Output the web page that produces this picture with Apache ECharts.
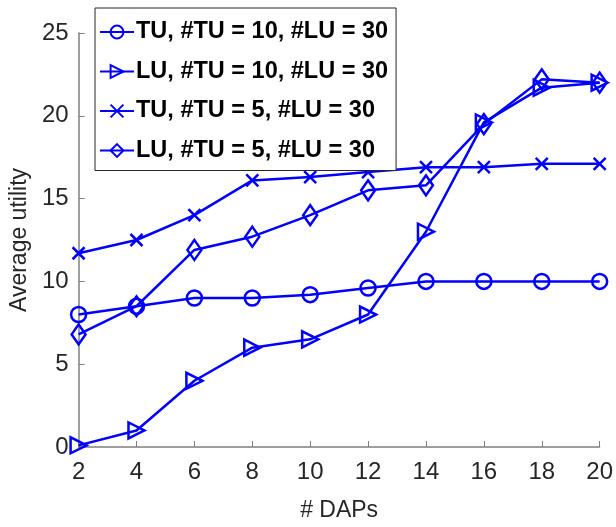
<!DOCTYPE html>
<html>
<head>
<meta charset="utf-8">
<script src="https://cdn.jsdelivr.net/npm/echarts@6/dist/echarts.min.js"></script>
<style>
  html, body { margin: 0; padding: 0; background: #fff; }
  #chart { width: 616px; height: 527px; }
</style>
</head>
<body>
<div id="chart"></div>
<script>
// number of DAPs on the x axis
var daps = [2, 4, 6, 8, 10, 12, 14, 16, 18, 20];

// average utility per series
var tu10 = [8.0, 8.5, 9.0, 9.0, 9.2, 9.6, 10.0, 10.0, 10.0, 10.0];
var lu10 = [0.1, 1.0, 4.0, 6.0, 6.5, 8.0, 13.0, 19.6, 21.7, 22.0];
var tu5 = [11.7, 12.5, 14.0, 16.1, 16.3, 16.6, 16.9, 16.9, 17.1, 17.1];
var lu5 = [6.8, 8.5, 11.9, 12.7, 14.0, 15.5, 15.8, 19.5, 22.2, 22.0];

var names = [
  'TU, #TU = 10, #LU = 30',
  'LU, #TU = 10, #LU = 30',
  'TU, #TU = 5, #LU = 30',
  'LU, #TU = 5, #LU = 30'
];

var blue = '#0000ff';
var axisGray = '#7f7f7f';
var textGray = '#262626';

function pairs(ys) {
  return daps.map(function (x, i) { return [x, ys[i]]; });
}

function makeSeries(name, ys, symbol, size, rotate) {
  return {
    name: name,
    type: 'line',
    data: pairs(ys),
    symbol: symbol,
    symbolSize: size,
    symbolRotate: rotate || 0,
    showAllSymbol: true,
    lineStyle: { color: blue, width: 2.5 },
    itemStyle: { color: 'rgba(0,0,0,0)', borderColor: blue, borderWidth: 2.5 },
    emphasis: { disabled: true },
    z: 3
  };
}

var chart = echarts.init(document.getElementById('chart'));
chart.setOption({
  animation: false,
  backgroundColor: '#fff',
  textStyle: { fontFamily: 'Liberation Sans, Arial, sans-serif' },
  grid: { left: 78, right: 14, top: 33, bottom: 79 },
  legend: {
    data: names,
    orient: 'vertical',
    left: 95,
    top: 8,
    padding: [12, 8, 8, 4],
    itemGap: 15.5,
    itemWidth: 34,
    itemHeight: 16,
    backgroundColor: '#fff',
    borderColor: textGray,
    borderWidth: 1,
    textStyle: { fontSize: 23.5, fontWeight: 'bold', color: '#000', padding: [0, 0, 0, -3] }
  },
  xAxis: {
    type: 'value',
    min: 2,
    max: 20,
    interval: 2,
    name: '# DAPs',
    nameLocation: 'middle',
    nameGap: 52,
    nameTextStyle: { fontSize: 23, color: textGray },
    axisLine: { lineStyle: { color: axisGray, width: 1.5 } },
    axisTick: { inside: true, length: 6, lineStyle: { color: axisGray } },
    axisLabel: { fontSize: 24, color: textGray, margin: 13 },
    splitLine: { show: false }
  },
  yAxis: {
    type: 'value',
    min: 0,
    max: 25,
    interval: 5,
    name: 'Average utility',
    nameLocation: 'middle',
    nameGap: 46,
    nameTextStyle: { fontSize: 23, color: textGray },
    axisLine: { show: true, lineStyle: { color: axisGray, width: 1.5 } },
    axisTick: { show: true, inside: true, length: 6, lineStyle: { color: axisGray } },
    axisLabel: { fontSize: 24, color: textGray, margin: 10 },
    splitLine: { show: false }
  },
  series: [
    makeSeries(names[0], tu10, 'circle', 15),
    makeSeries(names[1], lu10, 'triangle', 16, -90),
    makeSeries(names[2], tu5, 'path://M0,0L10,10M10,0L0,10', 12),
    makeSeries(names[3], lu5, 'diamond', [14, 20])
  ]
});
</script>
</body>
</html>
